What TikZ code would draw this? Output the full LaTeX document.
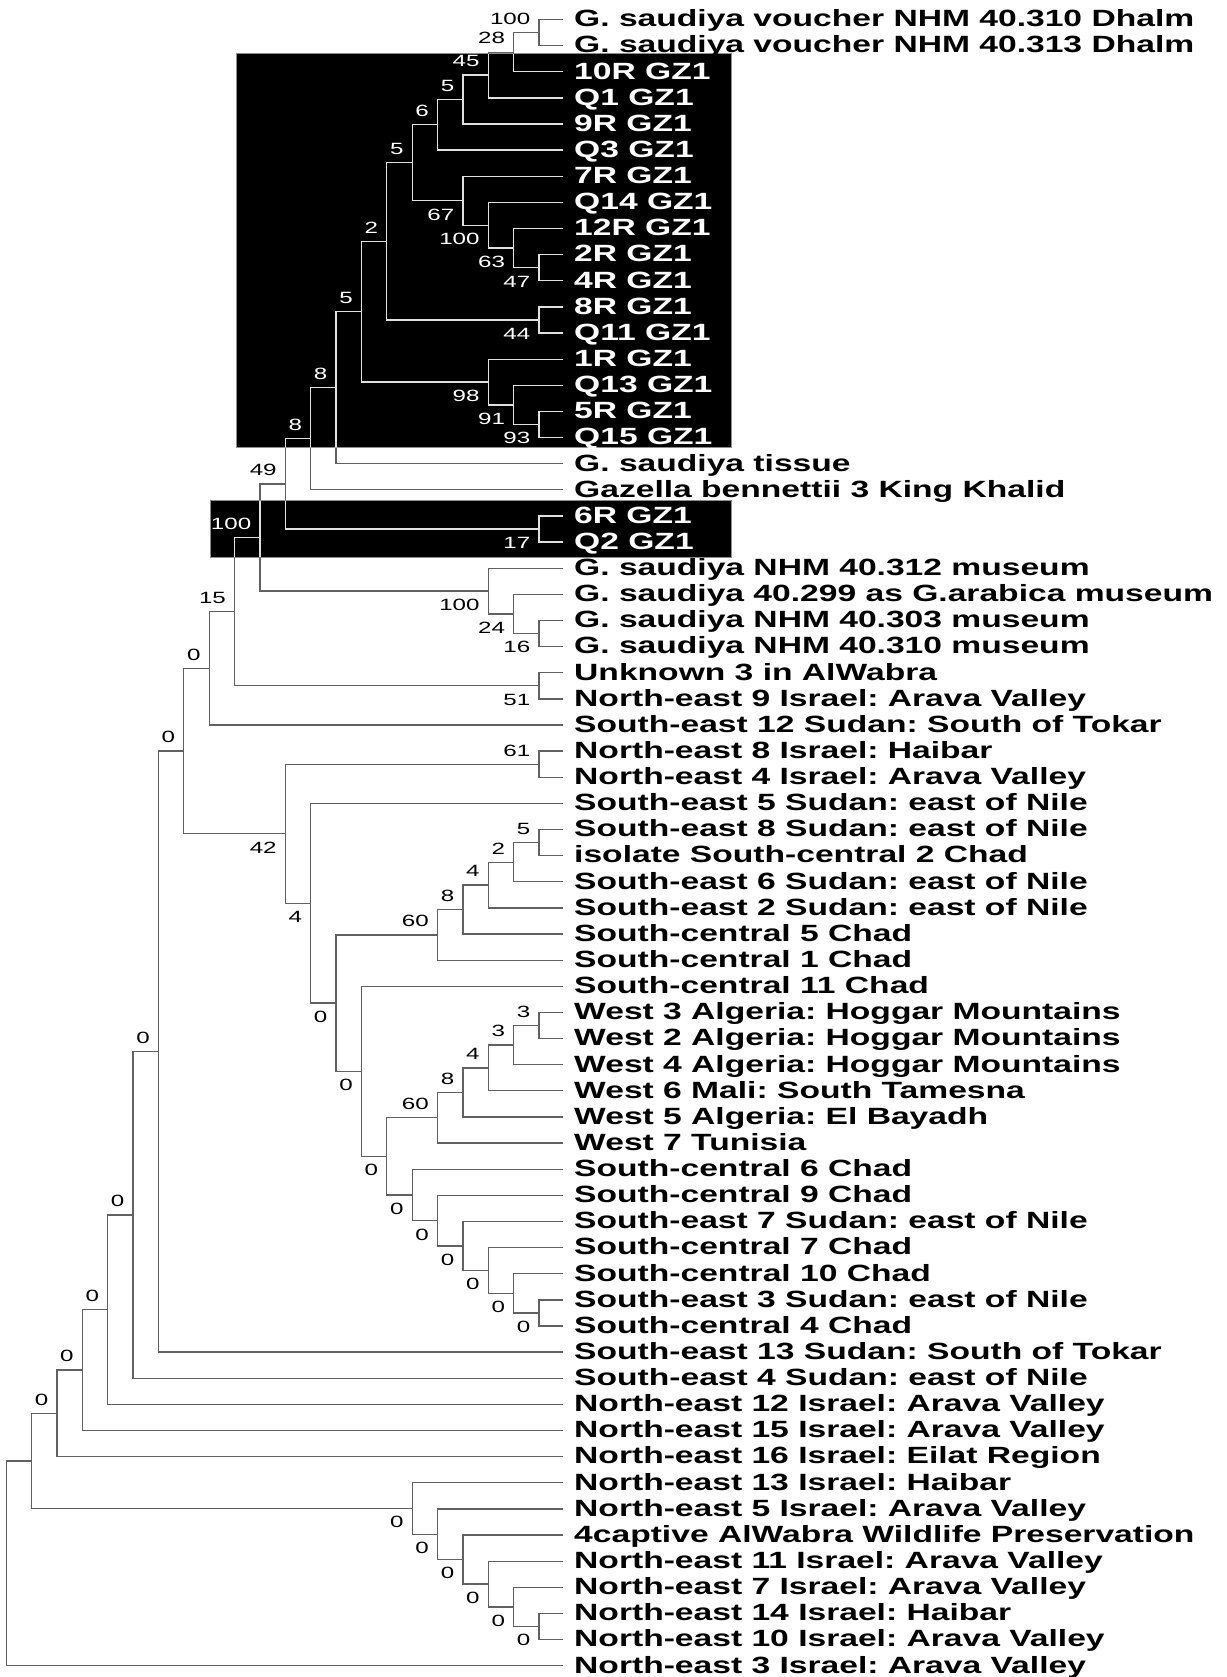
\documentclass[tikz,border=0pt]{standalone}
\usepackage{fontspec}
\usetikzlibrary{calc}
\newfontfamily\leaffont{Liberation Sans}[FakeStretch=1.43]
\newfontfamily\bsfont{Liberation Sans}[FakeStretch=1.48]
\frenchspacing
\tikzset{
  leaf/.style={inner sep=0pt, font=\leaffont\bfseries\fontsize{23.5}{26}\selectfont\frenchspacing, anchor=base west},
  bs/.style={inner sep=0pt, font=\bsfont\fontsize{16.3}{18}\selectfont, anchor=east},
  hibox/.style={fill=black, draw=black!45, line width=1pt},
}
\def\leaflist{
0/G. saudiya voucher NHM 40.310 Dhalm/black,
1/G. saudiya voucher NHM 40.313 Dhalm/black,
2/10R GZ1/white,
3/Q1 GZ1/white,
4/9R GZ1/white,
5/Q3 GZ1/white,
6/7R GZ1/white,
7/Q14 GZ1/white,
8/12R GZ1/white,
9/2R GZ1/white,
10/4R GZ1/white,
11/8R GZ1/white,
12/Q11 GZ1/white,
13/1R GZ1/white,
14/Q13 GZ1/white,
15/5R GZ1/white,
16/Q15 GZ1/white,
17/G. saudiya tissue/black,
18/Gazella bennettii 3 King Khalid/black,
19/6R GZ1/white,
20/Q2 GZ1/white,
21/G. saudiya NHM 40.312 museum/black,
22/G. saudiya 40.299 as G.arabica museum/black,
23/G. saudiya NHM 40.303 museum/black,
24/G. saudiya NHM 40.310 museum/black,
25/Unknown 3 in AlWabra/black,
26/North-east 9 Israel: Arava Valley/black,
27/South-east 12 Sudan: South of Tokar/black,
28/North-east 8 Israel: Haibar/black,
29/North-east 4 Israel: Arava Valley/black,
30/South-east 5 Sudan: east of Nile/black,
31/South-east 8 Sudan: east of Nile/black,
32/isolate South-central 2 Chad/black,
33/South-east 6 Sudan: east of Nile/black,
34/South-east 2 Sudan: east of Nile/black,
35/South-central 5 Chad/black,
36/South-central 1 Chad/black,
37/South-central 11 Chad/black,
38/West 3 Algeria: Hoggar Mountains/black,
39/West 2 Algeria: Hoggar Mountains/black,
40/West 4 Algeria: Hoggar Mountains/black,
41/West 6 Mali: South Tamesna/black,
42/West 5 Algeria: El Bayadh/black,
43/West 7 Tunisia/black,
44/South-central 6 Chad/black,
45/South-central 9 Chad/black,
46/South-east 7 Sudan: east of Nile/black,
47/South-central 7 Chad/black,
48/South-central 10 Chad/black,
49/South-east 3 Sudan: east of Nile/black,
50/South-central 4 Chad/black,
51/South-east 13 Sudan: South of Tokar/black,
52/South-east 4 Sudan: east of Nile/black,
53/North-east 12 Israel: Arava Valley/black,
54/North-east 15 Israel: Arava Valley/black,
55/North-east 16 Israel: Eilat Region/black,
56/North-east 13 Israel: Haibar/black,
57/North-east 5 Israel: Arava Valley/black,
58/4captive AlWabra Wildlife Preservation/black,
59/North-east 11 Israel: Arava Valley/black,
60/North-east 7 Israel: Arava Valley/black,
61/North-east 14 Israel: Haibar/black,
62/North-east 10 Israel: Arava Valley/black,
63/North-east 3 Israel: Arava Valley/black}
% name / level / upper child / lower child
\def\nodelist{
A/0/l0/l1, B/1/A/l2, C/2/B/l3, D/3/C/l4, E/4/D/l5,
J/0/l9/l10, I/1/l8/J, H/2/l7/I, G/3/l6/H, F/5/E/G,
L/0/l11/l12, K/6/F/L,
P/0/l15/l16, O/1/l14/P, N/2/l13/O, M/7/K/N,
Q/8/M/l17, R/9/Q/l18, S/0/l19/l20, T/10/R/S,
Y/0/l23/l24, X/1/l22/Y, V/2/l21/X, U/11/T/V,
Z/0/l25/l26, W/12/U/Z, AA/13/W/l27,
AD/0/l28/l29,
AL/0/l31/l32, AK/1/AL/l33, AJ/2/AK/l34, AI/3/AJ/l35, AG/4/AI/l36,
AS/0/l38/l39, AR/1/AS/l40, AQ/2/AR/l41, AP/3/AQ/l42, AN/4/AP/l43,
AX/0/l49/l50, AW/1/l48/AX, AV/2/l47/AW, AU/3/l46/AV, AT/4/l45/AU, AO/5/l44/AT,
AM/6/AN/AO, AH/7/l37/AM, AF/8/AG/AH, AE/9/l30/AF, AC/10/AD/AE,
AB/14/AA/AC, BA/15/AB/l51, BB/16/BA/l52, BC/17/BB/l53, BD/18/BC/l54, BE/19/BD/l55,
BM/0/l61/l62, BL/1/l60/BM, BK/2/l59/BL, BJ/3/l58/BK, BI/4/l57/BJ, BG/5/l56/BI,
BF/20/BE/BG, BH/21/BF/l63}
% node / text / vertical offset / colour
\def\labellist{
A/100/-13.8/black, B/28/-13.8/black, C/45/-13.8/white, D/5/-13.8/white,
E/6/-13.8/white, F/5/-13.8/white, G/67/13.8/white, H/100/13.8/white,
I/63/13.8/white, J/47/13.8/white, K/2/-13.8/white, L/44/13.8/white,
M/5/-13.8/white, N/98/13.8/white, O/91/13.8/white, P/93/13.8/white,
Q/8/-13.8/white, R/8/-13.8/white, S/17/13.8/white, T/49/-13.8/black,
U/100/-13.8/white, V/100/13.8/black, X/24/13.8/black, Y/16/13.8/black,
Z/51/13.8/black, W/15/-13.8/black, AA/0/-13.8/black, AB/0/-13.8/black,
AC/42/13.8/black, AD/61/-13.8/black, AE/4/13.8/black, AF/0/13.8/black,
AG/60/-13.8/black, AI/8/-13.8/black, AJ/4/-13.8/black, AK/2/-13.8/black,
AL/5/-13.8/black, AH/0/13.8/black, AM/0/13.8/black, AN/60/-13.8/black,
AP/8/-13.8/black, AQ/4/-13.8/black, AR/3/-13.8/black, AS/3/-13.8/black,
AO/0/13.8/black, AT/0/13.8/black, AU/0/13.8/black, AV/0/13.8/black,
AW/0/13.8/black, AX/0/13.8/black,
BA/0/-13.8/black, BB/0/-13.8/black, BC/0/-13.8/black, BD/0/-13.8/black,
BE/0/-13.8/black,
BG/0/13.8/black, BI/0/13.8/black, BJ/0/13.8/black, BK/0/13.8/black,
BL/0/13.8/black, BM/0/13.8/black}
\newcommand\drawtreeedges[1]{%
  \foreach \nn/\kk/\ua/\ub in \nodelist {\draw[#1] (\ua) -| (\nn) |- (\ub);}}
\begin{document}
\begin{tikzpicture}[x=1pt, y=-1pt]
\useasboundingbox (0,0) rectangle (1226,1677);
% highlight boxes
\path[hibox] (236.7,54) rectangle (731,447.7);
\path[hibox] (210.5,500.7) rectangle (731,557);
% leaves
\foreach \i/\lab/\col in \leaflist {
  \coordinate (l\i) at (563, {19.5+26.13*\i});
  \node[leaf, text=\col] (t\i) at (574, {26.8+26.13*\i}) {\lab};
}
% internal nodes
\foreach \nn/\kk/\ua/\ub in \nodelist {
  \coordinate (\nn-m) at ($(\ua)!0.5!(\ub)$);
  \coordinate (\nn-x) at ({539-25.37*\kk}, 0);
  \coordinate (\nn) at (\nn-x |- \nn-m);
}
% branches
\drawtreeedges{draw=black!62, line width=1.3pt}
\begin{scope}
  \clip (236.7,54) rectangle (731,447.7) (210.5,500.7) rectangle (731,557);
  \drawtreeedges{draw=black!12, line width=1.3pt}
\end{scope}
% bootstrap values
\foreach \nn/\lab/\dy/\col in \labellist {
  \node[bs, text=\col] (b\nn) at ($(\nn)+(-8.5,\dy)$) {\lab};
}
\end{tikzpicture}
\end{document}
